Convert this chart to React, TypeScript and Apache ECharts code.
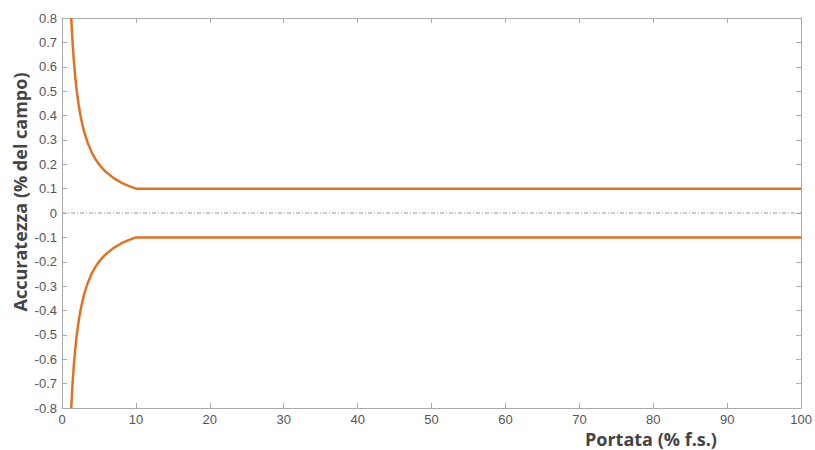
import React, { useEffect, useRef } from "react";
import * as echarts from "echarts";

const xTicks = [0, 10, 20, 30, 40, 50, 60, 70, 80, 90, 100];
const yTicks = [-0.8, -0.7, -0.6, -0.5, -0.4, -0.3, -0.2, -0.1, 0, 0.1, 0.2, 0.3, 0.4, 0.5, 0.6, 0.7, 0.8];

const flowX = [1.25, 1.4, 1.6, 1.8, 2, 2.25, 2.5, 2.75, 3, 3.5, 4, 4.5, 5, 5.5, 6, 7, 8, 9, 10, 100];
const upperY = [0.8, 0.714, 0.625, 0.556, 0.5, 0.444, 0.4, 0.364, 0.333, 0.286, 0.25, 0.222, 0.2, 0.182, 0.167, 0.143, 0.125, 0.111, 0.1, 0.1];
const lowerY = [-0.8, -0.714, -0.625, -0.556, -0.5, -0.444, -0.4, -0.364, -0.333, -0.286, -0.25, -0.222, -0.2, -0.182, -0.167, -0.143, -0.125, -0.111, -0.1, -0.1];
const zeroX = [0, 100];
const zeroY = [0, 0];

const xName = "Portata (% f.s.)";
const yName = "Accuratezza (% del campo)";

export default function App() {
  const ref = useRef<HTMLDivElement>(null);
  useEffect(() => {
    if (!ref.current) return;
    const chart = echarts.init(ref.current, null, { renderer: "svg" });
    const axisLine = { show: true, onZero: false, lineStyle: { color: "#aaaaaa", width: 1 } };
    const tick = { show: true, inside: true, length: 5, lineStyle: { color: "#aaaaaa" } };
    const label = { color: "#555", fontFamily: "Liberation Sans", fontSize: 13 };
    chart.setOption({
      animation: false,
      backgroundColor: "#fff",
      grid: { left: 62, right: 13, top: 18, bottom: 42 },
      xAxis: [
        {
          type: "value", min: 0, max: 100, interval: 10, position: "bottom",
          axisLine, axisTick: tick, splitLine: { show: false },
          axisLabel: { ...label, margin: 5, showMaxLabel: true, formatter: (v: number) => (xTicks.includes(v) ? String(v) : "") },
        },
        {
          type: "value", min: 0, max: 100, interval: 10, position: "top",
          axisLine, axisTick: tick, splitLine: { show: false }, axisLabel: { show: false },
        },
      ],
      yAxis: [
        {
          type: "value", min: -0.8, max: 0.8, interval: 0.1, position: "left",
          axisLine, axisTick: tick, splitLine: { show: false },
          axisLabel: {
            ...label, margin: 5,
            formatter: (v: number) => {
              const r = Math.round(v * 10) / 10;
              return yTicks.includes(r) ? String(r) : "";
            },
          },
        },
        {
          type: "value", min: -0.8, max: 0.8, interval: 0.1, position: "right",
          axisLine, axisTick: tick, splitLine: { show: false }, axisLabel: { show: false },
        },
      ],
      graphic: [
        {
          type: "text", x: 585, y: 430,
          style: { text: xName, fontFamily: "Open Sans", fontWeight: "bold", fontSize: 18, fill: "#444" },
        },
        {
          type: "text", x: 20, y: 192, rotation: Math.PI / 2,
          style: {
            text: yName, fontFamily: "Open Sans", fontWeight: "bold", fontSize: 18, fill: "#444",
            align: "center", verticalAlign: "middle",
          },
        },
      ],
      series: [
        {
          type: "line", data: zeroX.map((x, i) => [x, zeroY[i]]), symbol: "none",
          lineStyle: { color: "#999", width: 1, type: [4, 2, 1, 2] }, silent: true,
        },
        {
          type: "line", data: flowX.map((x, i) => [x, upperY[i]]), symbol: "none",
          lineStyle: { color: "#E07222", width: 2.5 },
        },
        {
          type: "line", data: flowX.map((x, i) => [x, lowerY[i]]), symbol: "none",
          lineStyle: { color: "#E07222", width: 2.5 },
        },
      ],
    });
    return () => chart.dispose();
  }, []);
  return <div ref={ref} style={{ width: 815, height: 450, position: "fixed", left: 0, top: 0 }} />;
}
